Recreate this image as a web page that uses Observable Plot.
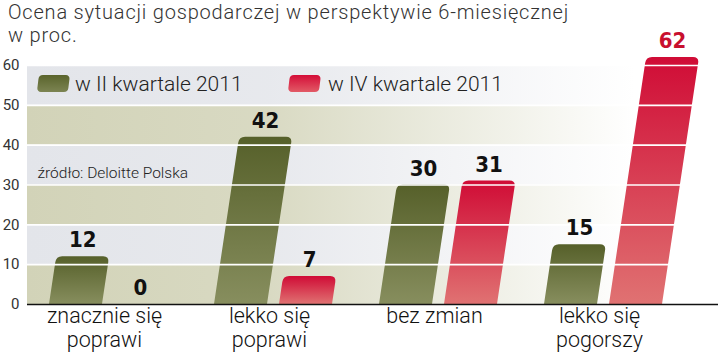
<!DOCTYPE html>
<html>
<head>
<meta charset="utf-8">
<script src="https://cdn.jsdelivr.net/npm/d3@7"></script>
<script src="https://cdn.jsdelivr.net/npm/@observablehq/plot@0.6"></script>
<style>
  html, body { margin: 0; padding: 0; background: #fff; }
  #wrap { width: 720px; height: 360px; position: relative; overflow: hidden; }
  #title { font-family: Roboto, "Open Sans", sans-serif; font-weight: 300; font-size: 20px; line-height: 23px;
           color: #333; padding: 1px 0 0 8px; height: 44px; letter-spacing: 0.8px; }
</style>
</head>
<body>
<div id="wrap">
  <div id="title">Ocena sytuacji gospodarczej w perspektywie 6-miesięcznej<br>w proc.</div>
  <div id="chart"></div>
</div>
<script>
// ---- data ----
const categories = ["znacznie się poprawi", "lekko się poprawi", "bez zmian", "lekko się pogorszy"];
const categoryLine1 = ["znacznie się", "lekko się", "bez zmian", "lekko się"];
const categoryLine2 = ["poprawi", "poprawi", "", "pogorszy"];
const seriesNames = ["w II kwartale 2011", "w IV kwartale 2011"];
const q2Values = [12, 42, 30, 15];
const q4Values = [0, 7, 31, 62];
const yTicks = [0, 10, 20, 30, 40, 50, 60];
const sourceText = "źródło: Deloitte Polska";

const greenBars = categories.map((c, i) => ({cat: c, v: q2Values[i]}));
const redBars = categories.map((c, i) => ({cat: c, v: q4Values[i]}));
const bandRows = yTicks.slice(0, -1).map((t, i) => ({lo: t, hi: yTicks[i + 1], kind: i % 2 === 0 ? "beige" : "gray"}));

const SLANT = 0.15;
const BAR_W = 53;
const maxQ4 = d3.max(q4Values);

function slantPath(x, w, yb, yt, r) {
  const h = yb - yt;
  if (h <= 0) return "";
  r = Math.min(r, h / 2);
  const dx = h * SLANT;
  const xl = x + dx, xr = x + w + dx;
  return `M${x},${yb}L${x + w},${yb}L${xr - r * SLANT},${yt + r}Q${xr},${yt} ${xr - r},${yt}L${xl + r},${yt}Q${xl},${yt} ${xl - r * SLANT},${yt + r}Z`;
}

function addGradient(defs, id, top, bottom) {
  const lg = defs.append("linearGradient").attr("id", id).attr("x1", 0).attr("x2", 0).attr("y1", 0).attr("y2", 1);
  lg.append("stop").attr("offset", 0).attr("stop-color", top);
  lg.append("stop").attr("offset", 1).attr("stop-color", bottom);
}

// background bands (fade to white on the right)
function bandsMark(index, scales, values, dims) {
  const {y} = scales;
  const g = d3.create("svg:g");
  const defs = g.append("defs");
  const x0 = dims.marginLeft, x1 = dims.width - dims.marginRight;
  const mk = (id, col) => {
    const lg = defs.append("linearGradient").attr("id", id).attr("gradientUnits", "userSpaceOnUse")
      .attr("x1", x0).attr("x2", x1).attr("y1", 0).attr("y2", 0);
    lg.append("stop").attr("offset", 0).attr("stop-color", col);
    lg.append("stop").attr("offset", 0.35).attr("stop-color", col).attr("stop-opacity", 0.85);
    lg.append("stop").attr("offset", 0.7).attr("stop-color", col).attr("stop-opacity", 0.3);
    lg.append("stop").attr("offset", 0.88).attr("stop-color", col).attr("stop-opacity", 0);
  };
  mk("bandBeige", "#d2d3b8");
  mk("bandGray", "#e3e5ea");
  for (const b of bandRows) {
    g.append("rect").attr("x", x0).attr("width", x1 - x0)
      .attr("y", y(b.hi)).attr("height", y(b.lo) - y(b.hi))
      .attr("fill", b.kind === "beige" ? "url(#bandBeige)" : "url(#bandGray)");
  }
  return g.node();
}

function barsMark(index, scales) {
  const {x, y} = scales;
  const g = d3.create("svg:g");
  const defs = g.append("defs");
  addGradient(defs, "gGreen", "#56602a", "#878e5e");
  addGradient(defs, "gRed", "#d00c36", "#e07272");
  const bw = x.bandwidth();
  const yb = y(0);
  greenBars.forEach(d => {
    const x0 = x(d.cat);
    g.append("path").attr("d", slantPath(x0, BAR_W, yb, y(d.v), 6)).attr("fill", "url(#gGreen)");
  });
  redBars.forEach(d => {
    const x0 = x(d.cat) + bw - BAR_W;
    g.append("path").attr("d", slantPath(x0, BAR_W, yb, y(d.v), 6)).attr("fill", "url(#gRed)");
  });
  return g.node();
}

function labelsMark(index, scales) {
  const {x, y} = scales;
  const g = d3.create("svg:g")
    .attr("font-family", "'DejaVu Sans Condensed', 'DejaVu Sans', sans-serif")
    .attr("font-stretch", "condensed")
    .attr("font-weight", "bold").attr("font-size", 22).attr("text-anchor", "middle");
  const bw = x.bandwidth();
  const yb = y(0);
  const put = (x0, v, color) => {
    const yt = y(v);
    const dx = (yb - yt) * SLANT;
    g.append("text").attr("x", x0 + BAR_W / 2 + dx).attr("y", yt - 9).attr("fill", color).text(v);
  };
  greenBars.forEach(d => put(x(d.cat), d.v, "#111"));
  redBars.forEach(d => put(x(d.cat) + bw - BAR_W, d.v, d.v === maxQ4 ? "#c8102e" : "#111"));
  return g.node();
}

function legendMark(index, scales, values, dims) {
  const g = d3.create("svg:g");
  const defs = g.append("defs");
  addGradient(defs, "lgGreen", "#5a642c", "#7c8452");
  addGradient(defs, "lgRed", "#d40e38", "#e25a66");
  const items = [
    {name: seriesNames[0], fill: "url(#lgGreen)", sx: 10, tx: 48},
    {name: seriesNames[1], fill: "url(#lgRed)", sx: 261, tx: 301}
  ];
  const top = 30;
  for (const it of items) {
    const x0 = dims.marginLeft + it.sx;
    g.append("rect").attr("x", x0).attr("y", top).attr("width", 31).attr("height", 17).attr("rx", 4)
      .attr("fill", it.fill)
      .attr("transform", `translate(${(top + 17) * 0.12},0) skewX(-7)`);
    g.append("text").attr("x", dims.marginLeft + it.tx).attr("y", top + 16)
      .attr("text-anchor", "start")
      .attr("font-family", "Roboto, sans-serif").attr("font-weight", 300).attr("font-size", 21)
      .attr("fill", "#222").text(it.name);
  }
  return g.node();
}

const plot = Plot.plot({
  width: 720,
  height: 315,
  marginTop: 20,
  marginBottom: 56,
  marginLeft: 27,
  marginRight: 2,
  style: {fontFamily: "Roboto, sans-serif", fontSize: "15px", color: "#333", overflow: "visible", background: "transparent"},
  x: {type: "band", domain: categories, range: [47, 664], paddingInner: 0.283, paddingOuter: 0, axis: null},
  y: {domain: [0, 60], ticks: yTicks, tickSize: 0, tickPadding: 8, label: null},
  marks: [
    bandsMark,
    barsMark,
    Plot.ruleY(yTicks.slice(1), {stroke: "#fff", strokeWidth: 1.6}),
    Plot.ruleY([0], {stroke: "#111", strokeWidth: 1.6}),
    labelsMark,
    legendMark,
    Plot.text([sourceText], {y: () => 32.9, frameAnchor: "left", textAnchor: "start", dx: 10, fontSize: 15.5, fontWeight: 300, fill: "#222"}),
    Plot.text(categories, {x: d => d, text: (d, i) => categoryLine1[i], frameAnchor: "bottom", dx: -4, dy: 18.5, fontSize: 21.5, fontWeight: 300, fill: "#111"}),
    Plot.text(categories, {x: d => d, text: (d, i) => categoryLine2[i], frameAnchor: "bottom", dx: -4, dy: 42.5, fontSize: 21.5, fontWeight: 300, fill: "#111"})
  ]
});
document.getElementById("chart").appendChild(plot);
</script>
</body>
</html>
